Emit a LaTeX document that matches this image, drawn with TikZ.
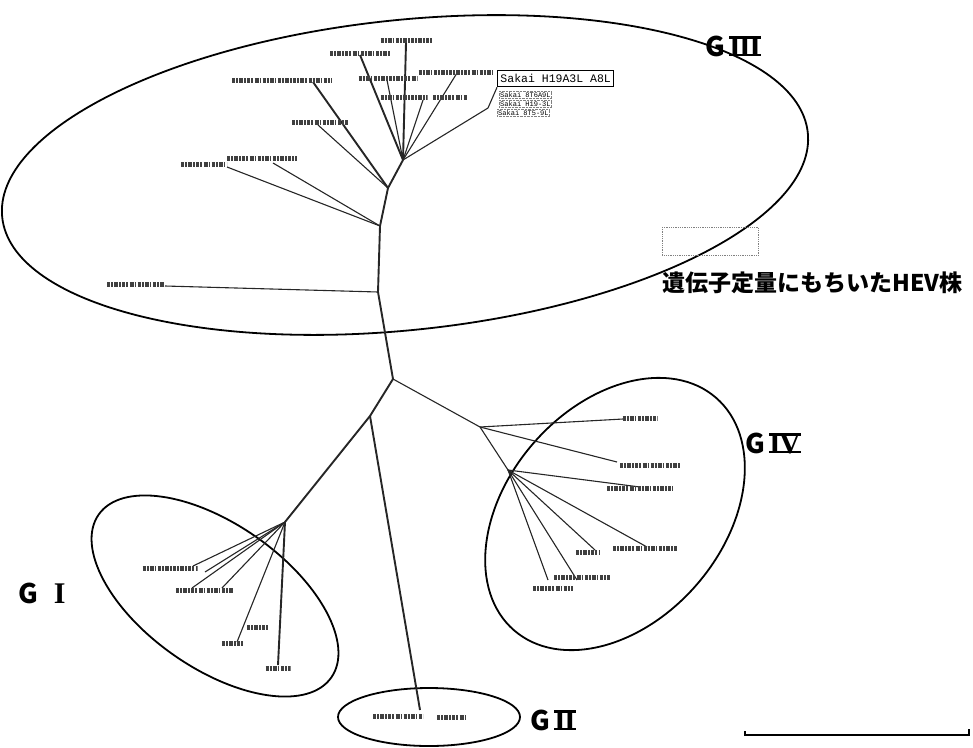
\documentclass[tikz,border=0pt]{standalone}
\usepackage{fontspec}
\setmainfont{Liberation Sans}
\newfontfamily\cjk{Noto Sans CJK JP}
\newfontfamily\monof{Liberation Mono}
\newfontfamily\rnf{Liberation Serif}
\usetikzlibrary{shapes.geometric}
\newcommand\rnum[1]{{\rnf\bfseries\fontsize{30}{30}\selectfont\setbox0=\hbox{#1}\rlap{\rule{\wd0}{2.2pt}}\rlap{\rule[\dimexpr\ht0-2.2pt\relax]{\wd0}{2.2pt}}\box0}}
\newcommand\rnumplain[1]{{\rnf\bfseries\fontsize{30}{30}\selectfont #1}}
\begin{document}
\begin{tikzpicture}[x=1pt,y=-1pt,
  br/.style={line width=1.1pt, black!85},
  thickbr/.style={line width=1.9pt, black!85},
  ell/.style={draw, ellipse, line width=1.8pt, inner sep=0pt},
  blob/.style={inner sep=0pt, minimum height=4.2pt,
    path picture={\draw[line width=5pt, black!75, dash pattern=on 3pt off 1pt on 2pt off 1.2pt on 4pt off 1pt on 1.5pt off 1.6pt]
      (path picture bounding box.west) -- (path picture bounding box.east);}},
  grp/.style={font=\cjk\bfseries\fontsize{27}{27}\selectfont, inner sep=0pt},
  smallbox/.style={draw=gray, densely dotted, font=\monof\fontsize{7}{7}\selectfont, inner sep=1pt, anchor=north west}
]
\useasboundingbox (0,0) rectangle (973,747);

% group ellipses
\node[ell, minimum width=810, minimum height=310, rotate=6] (g3) at (405,175) {};
\node[ell, minimum width=308, minimum height=216, rotate=49] (g4) at (615,514) {};
\node[ell, minimum width=284, minimum height=144, rotate=-35] (g1) at (215,596) {};
\node[ell, minimum width=182, minimum height=58] (g2) at (429,717) {};

% junctions
\coordinate (j3a) at (403,160);
\coordinate (j3b) at (388,188);
\coordinate (j3c) at (380,226);
\coordinate (j3d) at (378,292);
\coordinate (jm) at (393,379);
\coordinate (jgi) at (370,416);
\coordinate (j4a) at (480,427);
\coordinate (j4b) at (508,470);
\coordinate (j1) at (285,522);
\coordinate (e2) at (420,710);

% backbone
\draw[thickbr] (j3a) -- (j3b) -- (j3c) -- (j3d) -- (jm) -- (jgi) -- (j1);
\draw[br] (jm) -- (j4a) -- (j4b);
\draw[thickbr] (jgi) -- (e2);

% GIII leaves
\coordinate (lA) at (406,43);
\coordinate (lB) at (360,55);
\coordinate (lD) at (387,80);
\coordinate (lC) at (313,82);
\coordinate (lE) at (457,73);
\coordinate (lF) at (423,100);
\coordinate (lG) at (488,108);
\coordinate (lH) at (318,125);
\coordinate (l1) at (227,167);
\coordinate (l2) at (273,163);
\coordinate (l3) at (165,286);
\draw[thickbr] (j3a) -- (lA);
\draw[thickbr] (j3a) -- (lB);
\draw[br] (j3a) -- (lD);
\draw[thickbr] (j3b) -- (lC);
\draw[br] (j3a) -- (lE);
\draw[br] (j3a) -- (lF);
\draw[br] (j3a) -- (lG);
\draw[br] (j3b) -- (lH);
\draw[br] (j3c) -- (l1);
\draw[br] (j3c) -- (l2);
\draw[br] (j3d) -- (l3);

\node[blob, minimum width=53] (tA) at (407,40) {};
\node[blob, minimum width=60] (tB) at (360,53) {};
\node[blob, minimum width=59] (tD) at (388,78) {};
\node[blob, minimum width=100] (tC) at (282,80) {};
\node[blob, minimum width=75] (tE) at (456,72) {};
\node[blob, minimum width=47] (tF) at (404,97) {};
\node[blob, minimum width=34] (tF2) at (450,97) {};
\node[blob, minimum width=56] (tH) at (320,122) {};
\node[blob, minimum width=46] (t1) at (204,164) {};
\node[blob, minimum width=70] (t2) at (262,158) {};
\node[blob, minimum width=58] (t3) at (136,284) {};

% Sakai boxes
\node[draw, line width=0.9pt, inner xsep=3pt, inner ysep=4pt, font=\monof\fontsize{11.5}{11.5}\selectfont, anchor=north west] (sk1) at (497,70) {Sakai H19A3L A8L};
\node[smallbox] (sk2) at (499,91) {Sakai 8T6A9L};
\node[smallbox] (sk3) at (499,100) {Sakai H19-3L};
\node[smallbox] (sk4) at (497,109) {Sakai 8T5-9L};
\draw[br] (sk1.south west) -- (lG);

% GIV leaves
\coordinate (l4a) at (623,419);
\coordinate (l4b) at (617,462);
\coordinate (l4c) at (640,487);
\coordinate (l4d) at (647,547);
\coordinate (l4e) at (595,550);
\coordinate (l4f) at (577,580);
\coordinate (l4g) at (548,580);
\draw[br] (j4a) -- (l4a);
\draw[br] (j4a) -- (l4b);
\draw[br] (j4b) -- (l4c);
\draw[br] (j4b) -- (l4d);
\draw[br] (j4b) -- (l4e);
\draw[br] (j4b) -- (l4f);
\draw[br] (j4b) -- (l4g);
\node[blob, minimum width=35] (u4a) at (640,418) {};
\node[blob, minimum width=60] (u4b) at (650,465) {};
\node[blob, minimum width=66] (u4c) at (640,488) {};
\node[blob, minimum width=64] (u4d) at (645,548) {};
\node[blob, minimum width=24] (u4e) at (588,552) {};
\node[blob, minimum width=56] (u4f) at (582,577) {};
\node[blob, minimum width=40] (u4g) at (553,588) {};

% GI leaves
\coordinate (l1a) at (278,665);
\coordinate (l1b) at (237,642);
\coordinate (l1d) at (193,566);
\coordinate (l1e) at (205,572);
\coordinate (l1f) at (192,588);
\coordinate (l1g) at (222,588);
\draw[thickbr] (j1) -- (l1a);
\draw[br] (j1) -- (l1b);
\draw[br] (j1) -- (l1d);
\draw[br] (j1) -- (l1e);
\draw[br] (j1) -- (l1f);
\draw[br] (j1) -- (l1g);
\node[blob, minimum width=25] (v1a) at (278,668) {};
\node[blob, minimum width=22] (v1b) at (233,643) {};
\node[blob, minimum width=22] (v1c) at (258,627) {};
\node[blob, minimum width=55] (v1d) at (170,568) {};
\node[blob, minimum width=58] (v1f) at (205,590) {};

% GII leaf
\node[blob, minimum width=50] (w2a) at (398,716) {};
\node[blob, minimum width=30] (w2b) at (452,717) {};

% legend
\node[draw=gray, densely dotted, line width=0.8pt, minimum width=96, minimum height=28, inner sep=0pt, anchor=north west] (leg) at (662,227) {};
\node[font=\cjk\bfseries\fontsize{23}{23}\selectfont, anchor=west, inner sep=0pt] (legt) at (662,283) {遺伝子定量にもちいたHEV株};

% group labels
\node[grp, anchor=west] (n3) at (705,46) {G\kern4pt\rnum{I\kern-1.5pt I\kern-1.5pt I}};
\node[grp, anchor=west] (n4) at (745,443) {G\kern4pt\rnum{I\kern-1.5pt V}};
\node[grp, anchor=west] (n1) at (18,593) {G\kern16pt\rnumplain{I}};
\node[grp, anchor=west] (n2) at (530,720) {G\kern4pt\rnum{I\kern-1.5pt I}};

% scale bar
\coordinate (sb1) at (745,735);
\coordinate (sb2) at (969,735);
\coordinate (sb1t) at (745,731);
\coordinate (sb2t) at (969,729);
\draw[line width=1.3pt] (sb1t) -- (sb1) -- (sb2) -- (sb2t);
\end{tikzpicture}
\end{document}
